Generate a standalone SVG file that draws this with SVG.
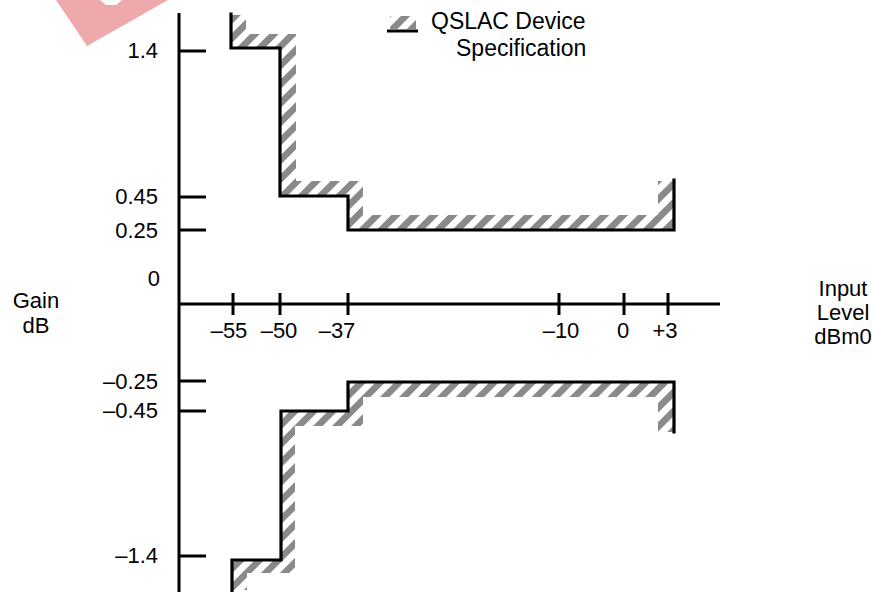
<svg xmlns="http://www.w3.org/2000/svg" width="872" height="592" viewBox="0 0 872 592">
  <defs>
    <pattern id="hatch" patternUnits="userSpaceOnUse" width="13.4" height="13.4" patternTransform="rotate(45)">
      <rect x="0" y="0" width="6.7" height="13.4" fill="#8a8a8a"/>
    </pattern>
  </defs>
  <style>
    .ax { stroke:#000; stroke-width:3; fill:none; }
    .lim { stroke:#000; stroke-width:3.2; fill:none; stroke-linejoin:miter; stroke-linecap:square; }
    .band { fill:url(#hatch); stroke:none; }
    text { font-family:"Liberation Sans", Arial, sans-serif; font-size:22px; fill:#000; }
    .leg { font-size:23px; }
    .ytl { text-anchor:end; }
    .xtl { text-anchor:middle; }
  </style>
  <rect width="872" height="592" fill="#fff"/>

  <g id="watermark">
    <polygon points="56,0 168,0 87,46" fill="#efa8ab"/>
    <polygon points="100,0 122,0 116,5 106,5" fill="#fff"/>
  </g>

  <g id="legend">
    <rect x="390" y="16" width="26" height="13" fill="url(#hatch)"/>
    <line x1="387" y1="31" x2="418" y2="31" class="ax"/>
    <text class="leg" x="431" y="29">QSLAC Device</text>
    <text class="leg" x="456" y="56">Specification</text>
  </g>

  <g id="upper-limit">
    <polygon class="band" points="231,15 246,15 246,34 296,34 296,181 363,181 363,215 658,215 658,181 674,181 674,230 348,230 348,196 280,196 280,48 231,48"/>
    <polyline class="lim" points="231,14 231,48 280,48 280,196 348,196 348,230 674,230 674,180"/>
  </g>

  <g id="lower-limit">
    <polygon class="band" points="232,560 281,560 281,411 348,411 348,382 674,382 674,432 658,432 658,397 363,397 363,426 295,426 295,573 247,573 247,590 232,590"/>
    <polyline class="lim" points="232,592 232,560 281,560 281,411 348,411 348,382 674,382 674,432"/>
  </g>

  <g id="axes">
    <line class="ax" x1="179" y1="13" x2="179" y2="592"/>
    <line class="ax" x1="179" y1="304" x2="720" y2="304"/>
    <path class="ax" d="M179,51 H206 M179,197 H206 M179,230 H206 M179,381 H206 M179,411 H206 M179,556 H206"/>
    <path class="ax" d="M233,293 V315 M280,293 V315 M348,293 V315 M559,293 V315 M624,293 V315 M668,293 V315"/>
  </g>

  <g id="y-labels">
    <text class="ytl" x="158" y="58">1.4</text>
    <text class="ytl" x="158" y="204">0.45</text>
    <text class="ytl" x="158" y="238">0.25</text>
    <text class="ytl" x="160" y="286">0</text>
    <text class="ytl" x="158" y="389">–0.25</text>
    <text class="ytl" x="158" y="418">–0.45</text>
    <text class="ytl" x="158" y="563">–1.4</text>
  </g>

  <g id="x-labels">
    <text class="xtl" x="229" y="338">–55</text>
    <text class="xtl" x="279" y="338">–50</text>
    <text class="xtl" x="337" y="338">–37</text>
    <text class="xtl" x="561" y="338">–10</text>
    <text class="xtl" x="623" y="338">0</text>
    <text class="xtl" x="665" y="338">+3</text>
  </g>

  <g id="axis-titles">
    <text class="xtl" x="36" y="308">Gain</text>
    <text class="xtl" x="36" y="333">dB</text>
    <text class="xtl" x="843" y="296">Input</text>
    <text class="xtl" x="843" y="320">Level</text>
    <text class="xtl" x="843" y="344">dBm0</text>
  </g>
</svg>
